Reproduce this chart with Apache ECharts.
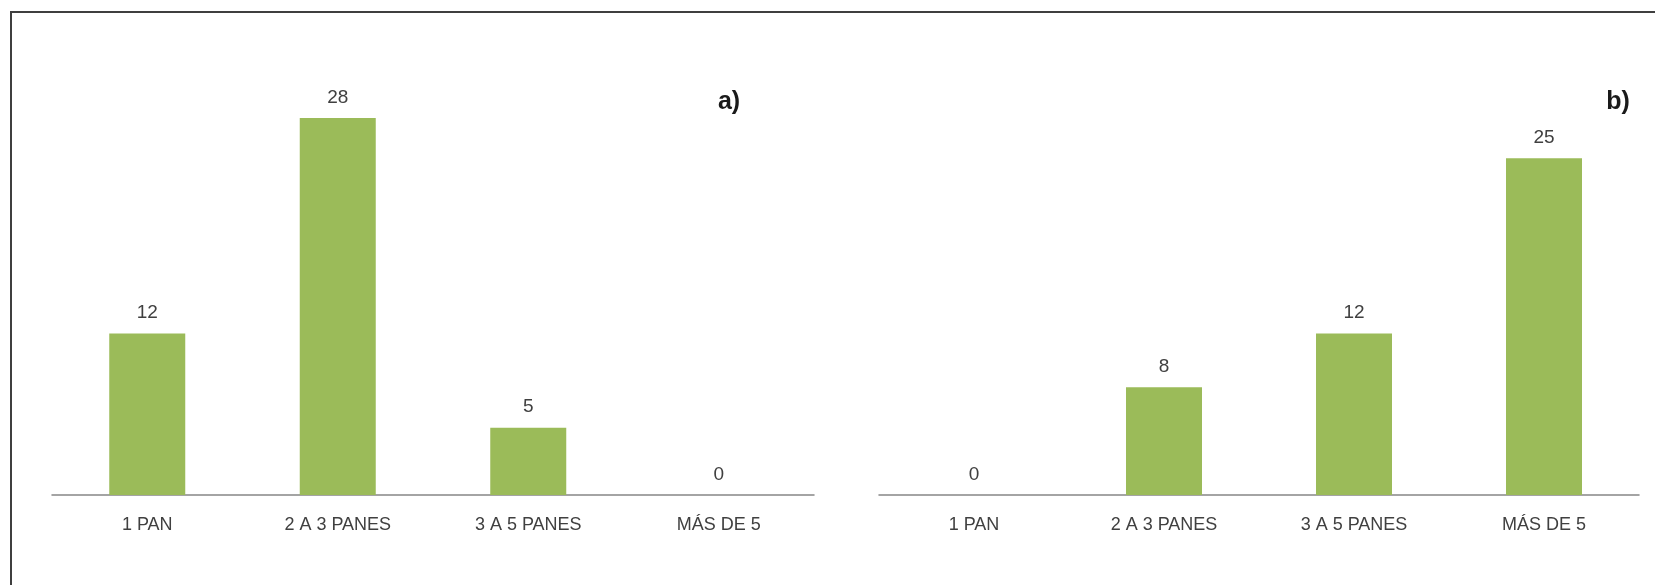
<!DOCTYPE html>
<html>
<head>
<meta charset="utf-8">
<title>Panes</title>
<script src="https://cdn.jsdelivr.net/npm/echarts@6/dist/echarts.min.js"></script>
<style>
  html, body { margin: 0; padding: 0; background: #ffffff; }
  #chart { width: 1655px; height: 585px; }
</style>
</head>
<body>
<div id="chart"></div>
<script>
// Categories shared by both panels
const categories = ['1 PAN', '2 A 3 PANES', '3 A 5 PANES', 'MÁS DE 5'];
// Panel a) counts
const valuesA = [12, 28, 5, 0];
// Panel b) counts
const valuesB = [0, 8, 12, 25];
// Panel tags
const panelTags = ['a)', 'b)'];

const FONT = '"Liberation Sans", Arial, sans-serif';
const BAR = '#9BBB59';
const TEXT = '#404040';

function xAxisFor(gridIndex) {
  return {
    type: 'category',
    gridIndex: gridIndex,
    data: categories,
    axisLine: { lineStyle: { color: '#868686', width: 1.5 } },
    axisTick: { show: false },
    axisLabel: { color: TEXT, fontSize: 18, fontFamily: FONT, margin: 21 }
  };
}

function yAxisFor(gridIndex) {
  return { type: 'value', gridIndex: gridIndex, min: 0, max: 30, show: false };
}

function barSeries(idx, values) {
  return {
    type: 'bar',
    xAxisIndex: idx,
    yAxisIndex: idx,
    data: values,
    barWidth: 76,
    itemStyle: { color: BAR },
    label: {
      show: true,
      position: 'top',
      distance: 11,
      color: TEXT,
      fontSize: 19,
      fontFamily: FONT
    }
  };
}

const chart = echarts.init(document.getElementById('chart'), null, { renderer: 'canvas' });
chart.setOption({
  animation: false,
  backgroundColor: '#ffffff',
  grid: [
    { left: 52, width: 762, top: 91, bottom: 90 },
    { left: 879, width: 760, top: 91, bottom: 90 }
  ],
  xAxis: [xAxisFor(0), xAxisFor(1)],
  yAxis: [yAxisFor(0), yAxisFor(1)],
  series: [barSeries(0, valuesA), barSeries(1, valuesB)],
  graphic: [
    {
      type: 'rect',
      silent: true,
      shape: { x: 11, y: 12, width: 1700, height: 700 },
      style: { fill: 'none', stroke: '#3f3f3f', lineWidth: 2 }
    },
    {
      type: 'text',
      x: 729, y: 102,
      style: {
        text: panelTags[0], fill: '#1a1a1a', fontSize: 25, fontWeight: 'bold',
        fontFamily: FONT, align: 'center', verticalAlign: 'middle'
      }
    },
    {
      type: 'text',
      x: 1618, y: 102,
      style: {
        text: panelTags[1], fill: '#1a1a1a', fontSize: 25, fontWeight: 'bold',
        fontFamily: FONT, align: 'center', verticalAlign: 'middle'
      }
    }
  ]
});
</script>
</body>
</html>
